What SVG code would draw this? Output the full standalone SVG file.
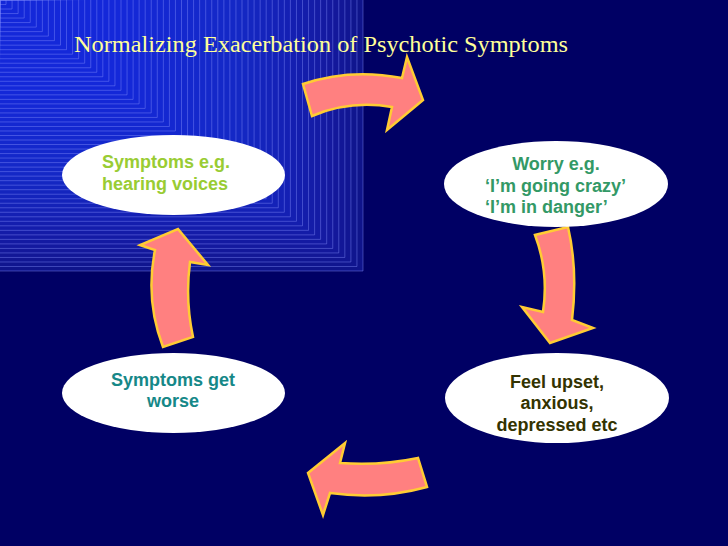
<svg xmlns="http://www.w3.org/2000/svg" xmlns:xlink="http://www.w3.org/1999/xlink" width="728" height="546" viewBox="0 0 728 546">
<style>
.node ellipse{fill:#ffffff;}
.lbl{font-family:"Liberation Sans",Arial,sans-serif;font-weight:bold;font-size:18px;}
.arrow{fill:#ff8080;stroke:#ffcc33;stroke-width:2.5;stroke-linejoin:miter;}
.title{font-family:"Liberation Serif","Times New Roman",serif;font-size:24px;fill:#ffff99;}
</style>
<defs>
<rect id="r" x="-2" y="-2" width="365" height="273" vector-effect="non-scaling-stroke"/>
</defs>
<rect x="0" y="0" width="728" height="546" fill="#000064"/>
<rect x="0" y="0" width="363" height="271" fill="#0e1286"/>
<g id="background-pattern" fill="#2040f0" fill-opacity="0.05" stroke="#8c96ff" stroke-opacity="0.5" stroke-width="0.8">
<use xlink:href="#r" transform="scale(1)"/>
<use xlink:href="#r" transform="scale(0.9833)"/>
<use xlink:href="#r" transform="scale(0.9667)"/>
<use xlink:href="#r" transform="scale(0.95)"/>
<use xlink:href="#r" transform="scale(0.9333)"/>
<use xlink:href="#r" transform="scale(0.9167)"/>
<use xlink:href="#r" transform="scale(0.9)"/>
<use xlink:href="#r" transform="scale(0.8833)"/>
<use xlink:href="#r" transform="scale(0.8667)"/>
<use xlink:href="#r" transform="scale(0.85)"/>
<use xlink:href="#r" transform="scale(0.8333)"/>
<use xlink:href="#r" transform="scale(0.8167)"/>
<use xlink:href="#r" transform="scale(0.8)"/>
<use xlink:href="#r" transform="scale(0.7833)"/>
<use xlink:href="#r" transform="scale(0.7667)"/>
<use xlink:href="#r" transform="scale(0.75)"/>
<use xlink:href="#r" transform="scale(0.7333)"/>
<use xlink:href="#r" transform="scale(0.7167)"/>
<use xlink:href="#r" transform="scale(0.7)"/>
<use xlink:href="#r" transform="scale(0.6833)"/>
<use xlink:href="#r" transform="scale(0.6667)"/>
<use xlink:href="#r" transform="scale(0.65)"/>
<use xlink:href="#r" transform="scale(0.6333)"/>
<use xlink:href="#r" transform="scale(0.6167)"/>
<use xlink:href="#r" transform="scale(0.6)"/>
<use xlink:href="#r" transform="scale(0.5833)"/>
<use xlink:href="#r" transform="scale(0.5667)"/>
<use xlink:href="#r" transform="scale(0.55)"/>
<use xlink:href="#r" transform="scale(0.5333)"/>
<use xlink:href="#r" transform="scale(0.5167)"/>
<use xlink:href="#r" transform="scale(0.5)"/>
<use xlink:href="#r" transform="scale(0.4833)"/>
<use xlink:href="#r" transform="scale(0.4667)"/>
<use xlink:href="#r" transform="scale(0.45)"/>
<use xlink:href="#r" transform="scale(0.4333)"/>
<use xlink:href="#r" transform="scale(0.4167)"/>
<use xlink:href="#r" transform="scale(0.4)"/>
<use xlink:href="#r" transform="scale(0.3833)"/>
<use xlink:href="#r" transform="scale(0.3667)"/>
<use xlink:href="#r" transform="scale(0.35)"/>
<use xlink:href="#r" transform="scale(0.3333)"/>
<use xlink:href="#r" transform="scale(0.3167)"/>
<use xlink:href="#r" transform="scale(0.3)"/>
<use xlink:href="#r" transform="scale(0.2833)"/>
<use xlink:href="#r" transform="scale(0.2667)"/>
<use xlink:href="#r" transform="scale(0.25)"/>
<use xlink:href="#r" transform="scale(0.2333)"/>
<use xlink:href="#r" transform="scale(0.2167)"/>
<use xlink:href="#r" transform="scale(0.2)"/>
<use xlink:href="#r" transform="scale(0.1833)"/>
<use xlink:href="#r" transform="scale(0.1667)"/>
<use xlink:href="#r" transform="scale(0.15)"/>
<use xlink:href="#r" transform="scale(0.1333)"/>
<use xlink:href="#r" transform="scale(0.1167)"/>
<use xlink:href="#r" transform="scale(0.1)"/>
<use xlink:href="#r" transform="scale(0.0833)"/>
<use xlink:href="#r" transform="scale(0.0667)"/>
<use xlink:href="#r" transform="scale(0.05)"/>
<use xlink:href="#r" transform="scale(0.0333)"/>
<use xlink:href="#r" transform="scale(0.0167)"/>
</g>
<text class="title" x="74" y="52" textLength="494" lengthAdjust="spacingAndGlyphs">Normalizing Exacerbation of Psychotic Symptoms</text>
<g id="connectors">
<path class="arrow" d="M303,84 Q350,68 402,78 L407,57 L423,100 L387,130 L392,107 Q350,100 312,116 Z"/>
<path class="arrow" d="M535,235 Q549,272 543,312 L522,307 L550,343 L593,328 L572,320 Q578,270 568,227 Z"/>
<path class="arrow" d="M418,458 Q380,466 340,463 L345,443 L308,473 L323,515 L330,493 Q380,500 427,487 Z"/>
<path class="arrow" d="M163,347 Q145,300 155,250 L140,245 L178,229 L208,265 L190,262 Q185,300 193,337 Z"/>
</g>
<g id="node-symptoms" class="node">
<ellipse cx="173.5" cy="175" rx="111.5" ry="40"/>
<text class="lbl" fill="#99cc33" x="102" y="168">Symptoms e.g.</text>
<text class="lbl" fill="#99cc33" x="102" y="190">hearing voices</text>
</g>
<g id="node-worry" class="node">
<ellipse cx="556" cy="184" rx="112" ry="43"/>
<text class="lbl" fill="#339966" x="556" y="170" text-anchor="middle">Worry e.g.</text>
<text class="lbl" fill="#339966" x="485" y="192">‘I’m going crazy’</text>
<text class="lbl" fill="#339966" x="485" y="213">‘I’m in danger’</text>
</g>
<g id="node-upset" class="node">
<ellipse cx="557" cy="398" rx="112" ry="45"/>
<text class="lbl" fill="#333300" x="557" y="388" text-anchor="middle">Feel upset,</text>
<text class="lbl" fill="#333300" x="557" y="409" text-anchor="middle">anxious,</text>
<text class="lbl" fill="#333300" x="557" y="431" text-anchor="middle">depressed etc</text>
</g>
<g id="node-worse" class="node">
<ellipse cx="173.5" cy="393" rx="111.5" ry="40"/>
<text class="lbl" fill="#168888" x="173" y="386" text-anchor="middle">Symptoms get</text>
<text class="lbl" fill="#168888" x="173" y="407" text-anchor="middle">worse</text>
</g>
</svg>
